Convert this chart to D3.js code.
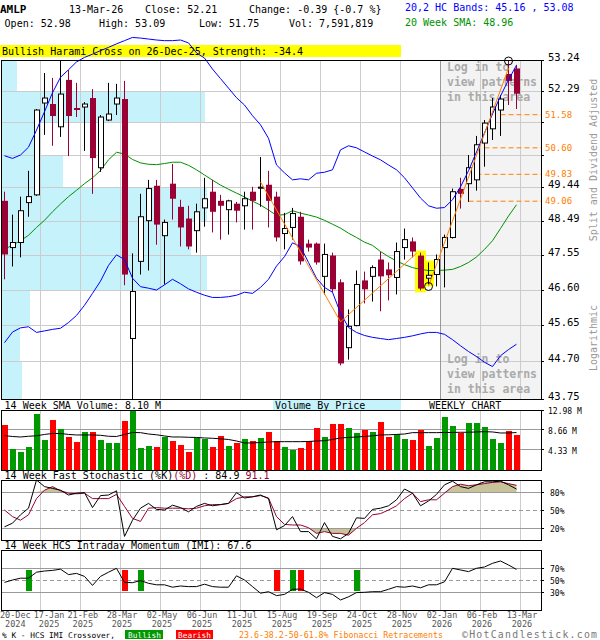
<!DOCTYPE html>
<html>
<head>
<meta charset="utf-8">
<script src="https://cdn.jsdelivr.net/npm/d3@7"></script>
<style>
body { margin: 0; background: #fff; }
svg { display: block; font-family: "DejaVu Sans Mono", monospace; }
</style>
</head>
<body>
<svg id="chart"></svg>
<script>
// weekly AMLP, 20-Dec-2024 .. 13-Mar-2026 (65 weeks)
const open  = [49.07,47.76,47.90,49.02,49.24,51.93,51.90,51.22,52.63,51.78,51.81,52.08,50.02,51.42,51.90,52.05,45.31,47.38,48.51,49.50,48.09,49.56,48.90,48.57,48.23,48.87,49.33,49.07,48.82,48.99,48.93,49.33,49.43,49.53,49.19,48.15,48.32,48.62,47.87,47.87,46.97,47.54,46.81,45.07,45.65,46.86,46.97,47.43,47.16,46.94,47.76,47.93,47.54,46.92,47.02,47.76,48.04,49.41,49.56,49.67,50.74,51.16,51.72,52.81,52.98];
const high  = [49.33,48.68,49.19,49.93,51.75,52.84,52.69,53.24,52.93,52.54,51.96,52.35,51.57,52.54,52.51,52.60,47.60,49.27,49.67,49.67,48.54,50.13,49.10,48.93,48.99,49.73,49.67,49.24,49.10,49.04,49.33,49.47,50.33,49.93,49.33,48.73,48.87,48.76,47.98,47.90,47.87,47.62,46.89,46.08,47.13,47.10,47.27,47.65,47.35,47.90,48.29,48.04,47.62,47.35,47.57,48.12,49.42,49.73,50.39,50.95,51.42,52.08,52.17,53.24,53.09];
const low   = [46.89,47.24,47.49,48.62,49.21,50.98,50.66,50.92,50.36,51.51,50.51,49.27,49.90,51.39,51.57,46.73,43.75,47.02,47.13,47.84,46.75,48.54,47.79,47.71,47.62,48.34,48.18,47.98,48.12,48.46,48.26,48.26,48.90,48.32,47.93,47.71,47.98,47.29,47.65,47.29,46.48,46.54,44.61,44.76,45.63,46.24,46.29,46.03,46.32,46.48,47.43,47.49,46.59,46.75,46.70,46.67,48.01,48.85,49.04,49.36,50.05,50.83,50.95,51.87,51.75];
const close = [47.57,47.90,48.79,49.19,51.72,52.08,51.54,52.20,51.54,51.72,51.90,50.30,51.51,51.60,52.08,47.02,46.56,48.62,49.42,48.40,48.46,49.13,48.32,47.79,48.76,49.13,48.76,48.93,49.07,48.79,49.13,49.07,49.46,49.07,48.04,48.29,48.71,47.38,47.76,47.35,47.57,46.62,44.66,45.63,46.75,46.62,47.21,46.97,47.00,47.65,47.98,47.65,46.64,47.00,47.43,48.04,49.33,49.27,50.02,50.69,51.33,51.81,52.05,52.60,52.21];

const sma20   = [47.71,47.83,47.95,48.10,48.32,48.52,48.76,48.98,49.19,49.37,49.56,49.73,49.94,50.25,50.47,50.42,50.26,50.16,50.12,50.11,50.14,50.18,50.18,50.09,49.96,49.81,49.66,49.52,49.40,49.29,49.18,49.06,48.95,48.81,48.66,48.68,48.79,48.72,48.67,48.61,48.52,48.41,48.30,48.16,48.04,47.91,47.82,47.65,47.51,47.39,47.29,47.21,47.16,47.13,47.13,47.14,47.16,47.24,47.35,47.50,47.71,47.95,48.29,48.64,48.96];
const bandUp  = [50.37,50.29,50.39,50.62,51.12,51.67,52.24,52.71,52.94,53.18,53.32,53.42,53.53,53.63,53.74,53.84,53.94,53.92,53.89,53.86,53.84,53.84,53.86,53.77,53.46,53.30,52.96,52.67,52.38,52.09,51.87,51.55,51.28,50.88,50.10,49.87,49.67,49.70,49.67,49.86,49.89,49.96,50.54,50.66,50.60,50.48,50.36,50.25,50.10,49.96,49.73,49.44,49.15,48.93,48.86,48.88,49.10,49.47,49.93,50.48,51.04,51.60,52.14,52.63,53.08];
const bandLow = [45.20,45.48,45.59,45.62,45.47,45.51,45.55,45.58,45.73,45.92,46.19,46.51,46.84,47.27,47.56,47.43,46.92,46.69,46.65,46.60,46.74,46.89,46.77,46.63,46.54,46.46,46.40,46.40,46.42,46.46,46.54,46.51,46.67,46.89,47.25,47.51,47.89,47.79,47.35,46.92,46.67,46.54,45.98,45.60,45.47,45.39,45.34,45.31,45.28,45.31,45.34,45.38,45.43,45.47,45.47,45.42,45.28,45.12,44.97,44.84,44.69,44.58,44.86,45.02,45.16];

// volume in millions of shares
const volume = [9.74,4.55,3.83,4.91,12.06,6.50,10.83,8.88,7.14,5.99,8.16,8.16,6.50,5.77,5.77,10.61,12.98,4.84,5.20,4.91,7.22,6.28,5.41,3.90,6.86,6.71,4.98,7.36,5.20,5.85,6.71,6.28,6.93,8.23,6.21,4.98,4.33,4.76,6.28,9.09,7.14,9.96,9.96,9.09,8.01,8.66,8.23,10.39,7.14,7.72,6.71,6.50,8.66,5.20,6.93,11.47,9.53,8.01,10.18,10.18,9.31,6.71,5.85,8.44,7.59];
const volSma = [7.43,7.25,7.14,7.30,7.40,7.69,7.90,7.90,7.69,7.58,7.58,7.58,7.51,7.30,7.25,7.69,8.12,8.08,7.79,7.62,7.36,7.14,7.14,7.08,7.04,6.93,6.86,6.75,6.60,6.28,5.85,5.85,5.95,6.06,6.13,6.13,6.13,6.13,6.17,6.28,6.34,6.60,6.93,7.04,7.14,7.25,7.40,7.58,7.62,7.69,7.79,8.08,8.08,8.08,8.08,8.12,8.12,8.16,8.16,8.23,8.29,8.23,8.01,8.01,8.10];

const stochK = [22,28,42,53,100,89,86,83,75,78,79,54,74,75,82,6,33,53,61,51,50,58,54,47,56,61,57,59,61,79,70,72,75,69,17,24,39,14,14,2,29,6,2,11,37,36,51,53,57,67,85,78,57,65,76,92,98,89,86,92,97,97,98,92,84.9];
const stochD = [50,39,33,42,69,83,89,82,78,77,78,69,69,69,76,56,36,31,53,54,53,53,53,52,53,57,59,59,61,69,72,72,74,70,39,26,25,25,20.5,11,14,11,11,8,19.5,29,42,44,50,57,69,78,64,67,67,78,89,93,90.5,92,94,96,97,94,91.1];
const imi = [46,50,53,53,63,65,66,68,59,61,56,41,56,63,69.5,46,45.5,49,44.5,42,42,38,40,39,39,43,39,38,38,57,50,39,28,30.5,24,26,34.5,35,29.5,20.5,29,26,16.7,22,29,29.5,30.5,30.5,34.5,39,38,40,37,42,42,47,69.5,66.7,64,69.5,71.7,77.8,81.7,75,67.6];
const imiBull = [3, 17, 36, 44];
const imiBear = [15, 34, 37];

// price ticks, also the volume-by-price bin edges
const priceTicks = [53.24,52.29,51.34,50.39,49.44,48.49,47.55,46.60,45.65,44.70,43.75];
const vbp = [8, 99, 19, 30, 100, 92, 100, 14, 9, 10];   // relative volume per bin

const fibLevels = [51.58, 50.60, 49.83, 49.06];
const fibStart  = [62, 60, 59, 58];
const trendA = [[32, 49.61], [42, 45.75], [51.5, 47.60]];
const trendB = [[53, 46.70], [63, 52.99]];
const harami = [52, 53];

const tickIdx  = [0,4,9,14,19,24,29,34,39,44,49,54,59,64];
const tickDate = ["20-Dec","17-Jan","21-Feb","28-Mar","02-May","06-Jun","11-Jul","15-Aug","19-Sep","24-Oct","28-Nov","02-Jan","06-Feb","13-Mar"];
const tickYear = ["2024","2025","2025","2025","2025","2025","2025","2025","2025","2025","2025","2026","2026","2026"];

const width = 600, height = 640;
const left = 1, right = 541;
const pP = {t: 60, b: 399}, pV = {t: 410, b: 470}, pS = {t: 480, b: 540}, pI = {t: 550, b: 610};

const red = "#990033", blue = "#0000ff", green = "#009000", orange = "#ff8000";
const grid = "#cccccc", grid2 = "#999999", cyan = "#c6f3fb";

const svg = d3.select("#chart").attr("width", width).attr("height", height);
svg.append("rect").attr("width", width).attr("height", height).attr("fill", "#fff");

const x = d3.scaleLinear().domain([0, 64]).range([4.5, 516.5]);
const yP = d3.scaleLog().domain([43.75, 53.24]).range([pP.b, pP.t]);
const yV = d3.scaleLinear().domain([0, 12.98]).range([pV.b, pV.t]);
const yS = d3.scaleLinear().domain([0, 100]).range([pS.b, pS.t]);
const yI = d3.scaleLinear().domain([0, 100]).range([pI.b, pI.t]);
const wV = d3.scaleLinear().domain([0, 100]).range([0, 206]);

function txt(g, xx, yy, s, size, fill) {
  return g.append("text").attr("x", xx).attr("y", yy).style("font-size", size + "px")
    .attr("fill", fill || "#000").text(s);
}

// ---------- header ----------
txt(svg, 0, 13, "AMLP", 11).style("font-weight", "bold");
txt(svg, 69, 13, "13-Mar-26", 10);
txt(svg, 145, 13, "Close: 52.21", 10);
txt(svg, 249, 13, "Change: -0.39 {-0.7 %}", 10);
txt(svg, 4.6, 27, "Open: 52.98", 10);
txt(svg, 99, 27, "High: 53.09", 10);
txt(svg, 199, 27, "Low: 51.75", 10);
txt(svg, 289, 27, "Vol: 7,591,819", 10);
txt(svg, 405, 11, "20,2 HC Bands: 45.16 , 53.08", 10, blue);
txt(svg, 405, 26, "20 Week SMA: 48.96", 10, green);

svg.append("rect").attr("x", 0).attr("y", 45).attr("width", 401).attr("height", 12).attr("fill", "#ffff00");
txt(svg, 2, 55, "Bullish Harami Cross on 26-Dec-25, Strength: -34.4", 10);

// ---------- helpers ----------
function vgrid(g, p) {
  g.selectAll(null).data(tickIdx.slice(1)).enter().append("line")
    .attr("x1", d => x(d + 0.5)).attr("x2", d => x(d + 0.5))
    .attr("y1", p.t).attr("y2", p.b)
    .attr("stroke", grid).attr("shape-rendering", "crispEdges");
}
function hline(g, yy, color, dash) {
  g.append("line").attr("x1", left).attr("x2", right).attr("y1", yy).attr("y2", yy)
    .attr("stroke", color).attr("stroke-dasharray", dash || null).attr("shape-rendering", "crispEdges");
}
function frame(g, p) {
  g.append("rect").attr("x", left).attr("y", p.t).attr("width", right - left).attr("height", p.b - p.t)
    .attr("fill", "none").attr("stroke", "#000").attr("shape-rendering", "crispEdges");
}
function ytick(g, yy) {
  g.append("line").attr("x1", right).attr("x2", right + 3).attr("y1", yy).attr("y2", yy)
    .attr("stroke", "#000").attr("shape-rendering", "crispEdges");
}

// ---------- price panel ----------
const gp = svg.append("g");
gp.append("rect").attr("x", x(54.5)).attr("y", pP.t).attr("width", right - x(54.5)).attr("height", pP.b - pP.t)
  .attr("fill", "#f3f3f3");

gp.selectAll(null).data(vbp).enter().append("rect")
  .attr("x", left).attr("y", (d, k) => yP(priceTicks[k]))
  .attr("width", d => wV(d))
  .attr("height", (d, k) => yP(priceTicks[k + 1]) - yP(priceTicks[k]))
  .attr("fill", cyan).attr("shape-rendering", "crispEdges");

priceTicks.slice(1, -1).forEach(v => hline(gp, yP(v), grid));
vgrid(gp, pP);
gp.append("line").attr("x1", x(54.5)).attr("x2", x(54.5)).attr("y1", pP.t).attr("y2", pP.b)
  .attr("stroke", "#999").attr("shape-rendering", "crispEdges");

["Log in to", "view patterns", "in this area"].forEach((s, k) => {
  txt(gp, 447, 71 + k * 15, s, 11.5, "#aaa").style("font-weight", "bold");
  txt(gp, 447, 363 + k * 15, s, 11.5, "#aaa").style("font-weight", "bold");
});

gp.selectAll(null).data(fibLevels).enter().append("line")
  .attr("x1", (d, k) => x(fibStart[k])).attr("x2", right)
  .attr("y1", d => yP(d)).attr("y2", d => yP(d))
  .attr("stroke", orange).attr("stroke-dasharray", "5,3");

gp.selectAll(null).data(harami).enter().append("rect")
  .attr("x", d => x(d) - 5.5).attr("width", 11)
  .attr("y", d => yP(high[d]) - 2).attr("height", d => yP(low[d]) - yP(high[d]) + 4)
  .attr("fill", "#ffff00");

const lineP = d3.line().x((d, i) => x(i)).y(d => yP(d));
gp.append("path").attr("d", lineP(sma20)).attr("fill", "none").attr("stroke", green);

// candles
const cand = d3.range(open.length);
gp.selectAll(null).data(cand).enter().append("line")
  .attr("x1", i => x(i)).attr("x2", i => x(i))
  .attr("y1", i => yP(high[i])).attr("y2", i => yP(low[i]))
  .attr("stroke", i => close[i] >= open[i] ? "#000" : red);
gp.selectAll(null).data(cand).enter().append("rect")
  .attr("x", i => close[i] >= open[i] ? x(i) - 2 : x(i) - 2.5)
  .attr("width", i => close[i] >= open[i] ? 5 : 6)
  .attr("y", i => yP(Math.max(open[i], close[i])))
  .attr("height", i => Math.max(1, yP(Math.min(open[i], close[i])) - yP(Math.max(open[i], close[i]))))
  .attr("fill", i => close[i] >= open[i] ? "#fff" : red)
  .attr("stroke", i => close[i] >= open[i] ? "#000" : "none");

gp.append("path").attr("d", lineP(bandUp)).attr("fill", "none").attr("stroke", blue);
gp.append("path").attr("d", lineP(bandLow)).attr("fill", "none").attr("stroke", blue);

const lineT = d3.line().x(d => x(d[0])).y(d => yP(d[1]));
[trendA, trendB].forEach(t => gp.append("path").attr("d", lineT(t)).attr("fill", "none").attr("stroke", orange));

gp.append("circle").attr("cx", x(63)).attr("cy", yP(high[63]) + 1).attr("r", 4)
  .attr("fill", "none").attr("stroke", "#000");
gp.append("circle").attr("cx", x(53)).attr("cy", yP(low[53]) + 2).attr("r", 4)
  .attr("fill", "none").attr("stroke", "#000");

frame(gp, pP);

priceTicks.forEach(v => {
  ytick(gp, yP(v));
  const clash = fibLevels.some(f => Math.abs(yP(f) - yP(v)) < 9);
  if (!clash) txt(gp, 548, yP(v) + 0.5, v.toFixed(2), 10.5);
});
fibLevels.forEach(f => txt(gp, 545, yP(f) + 3, f.toFixed(2), 9, orange));

svg.append("text").attr("transform", "translate(597,160) rotate(-90)").attr("text-anchor", "middle")
  .style("font-size", "10px").attr("fill", "#999").text("Split and Dividend Adjusted");
svg.append("text").attr("transform", "translate(597,338) rotate(-90)").attr("text-anchor", "middle")
  .style("font-size", "10px").attr("fill", "#999").text("Logarithmic");

// ---------- volume panel ----------
const gv = svg.append("g");
txt(gv, 4.6, pV.t - 1, "14 Week SMA Volume: 8.10 M", 10);
gv.append("rect").attr("x", 273).attr("y", 400).attr("width", 128).attr("height", 10).attr("fill", cyan);
txt(gv, 275, pV.t - 1, "Volume By Price", 10);
txt(gv, 429, pV.t - 1, "WEEKLY CHART", 10);

vgrid(gv, pV);
[4.33, 8.66].forEach(v => hline(gv, yV(v), grid2));
gv.selectAll(null).data(volume).enter().append("rect")
  .attr("x", (d, i) => x(i) - 2.5).attr("width", 6)
  .attr("y", d => yV(d)).attr("height", d => yV(0) - yV(d))
  .attr("fill", (d, i) => close[i] >= open[i] ? "#009900" : "#ff0000")
  .attr("shape-rendering", "crispEdges");
gv.append("path").attr("d", d3.line().x((d, i) => x(i)).y(d => yV(d))(volSma))
  .attr("fill", "none").attr("stroke", "#000");
frame(gv, pV);
[12.98, 8.66, 4.33].forEach(v => {
  ytick(gv, yV(v));
  txt(gv, 548, yV(v) + 4, v.toFixed(2) + " M", 8);
});

// ---------- stochastic panel ----------
const gs = svg.append("g");
const st = txt(gs, 4.6, pS.t - 1, "14 Week Fast Stochastic (%K)", 10);
st.append("tspan").attr("fill", red).text("(%D)");
st.append("tspan").text(" : 84.9 ");
st.append("tspan").attr("fill", red).text("91.1");

vgrid(gs, pS);
gs.append("path").attr("d", d3.area().x((d, i) => x(i)).y0(yS(80)).y1(d => yS(Math.max(80, d)))(stochD))
  .attr("fill", "#c8c39a");
gs.append("path").attr("d", d3.area().x((d, i) => x(i)).y0(yS(20)).y1(d => yS(Math.min(20, d)))(stochD))
  .attr("fill", "#c8c39a");
hline(gs, yS(80), grid2);
hline(gs, yS(20), grid2);
hline(gs, yS(50), grid2, "4,3");
const lineS = d3.line().x((d, i) => x(i)).y(d => yS(d));
gs.append("path").attr("d", lineS(stochD)).attr("fill", "none").attr("stroke", red);
gs.append("path").attr("d", lineS(stochK)).attr("fill", "none").attr("stroke", "#000");
frame(gs, pS);
[80, 50, 20].forEach(v => {
  ytick(gs, yS(v));
  txt(gs, 550, yS(v) + 3.5, v + "%", 8);
});

// ---------- IMI panel ----------
const gi = svg.append("g");
txt(gi, 4.6, pI.t - 1, "14 Week HCS Intraday Momentum (IMI): 67.6", 10);
vgrid(gi, pI);
hline(gi, yI(70), grid2);
hline(gi, yI(30), grid2);
hline(gi, yI(50), grid2, "4,3");
gi.selectAll(null).data(imiBull.map(i => [i, "#009900"]).concat(imiBear.map(i => [i, "#ff0000"])))
  .enter().append("rect")
  .attr("x", d => x(d[0]) - 3).attr("width", 6)
  .attr("y", yI(66.5)).attr("height", yI(31.5) - yI(66.5))
  .attr("fill", d => d[1]).attr("shape-rendering", "crispEdges");
gi.append("path").attr("d", d3.line().x((d, i) => x(i)).y(d => yI(d))(imi))
  .attr("fill", "none").attr("stroke", "#000");
frame(gi, pI);
[70, 50, 30].forEach(v => {
  ytick(gi, yI(v));
  txt(gi, 550, yI(v) + 3.5, v + "%", 8);
});

// ---------- date labels ----------
let prevRight = -10;
tickIdx.forEach((ti, k) => {
  const t = txt(svg, 0, 618, tickDate[k], 8.5, "#555");
  const w = t.node().getComputedTextLength();
  let lft = k === 0 ? 0 : x(ti + 0.5) + 1.5 - w / 2;
  if (lft < prevRight + 3) lft = prevRight + 3;
  prevRight = lft + w;
  t.attr("x", lft);
  txt(svg, lft + w / 2, 626.5, tickYear[k], 8.5, "#555").attr("text-anchor", "middle");
});

// ---------- legend ----------
txt(svg, 2, 637.5, "% K - HCS IMI Crossover,", 7.8).attr("textLength", 113);
svg.append("rect").attr("x", 125).attr("y", 630).attr("width", 38).attr("height", 9).attr("fill", "#009900");
txt(svg, 128, 637.5, "Bullish", 7.8, "#fff").attr("textLength", 33);
svg.append("rect").attr("x", 176).attr("y", 630).attr("width", 37).attr("height", 9).attr("fill", "#ff0000");
txt(svg, 178, 637.5, "Bearish", 7.8, "#fff").attr("textLength", 33);
txt(svg, 239, 637.5, "23.6-38.2-50-61.8% Fibonacci Retracements", 8.3, orange).attr("textLength", 204);
txt(svg, 462, 637.7, "\u00a9HotCandlestick.com", 9.8, "#777").attr("textLength", 135);
</script>
</body>
</html>
